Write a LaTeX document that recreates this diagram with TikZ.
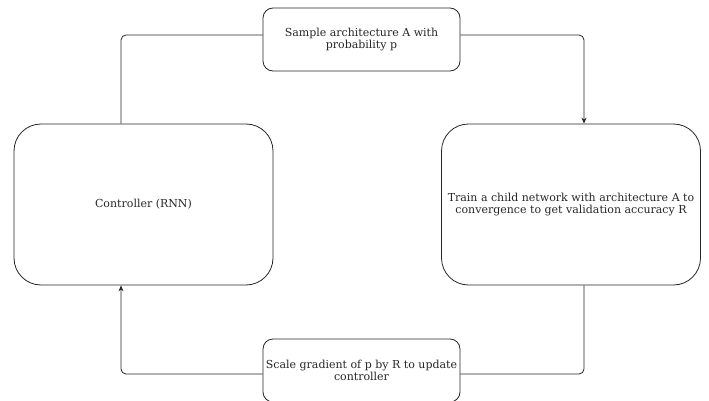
\documentclass[tikz,border=0pt]{standalone}
\usepackage{fontspec}
\setmainfont{DejaVu Serif}
\usetikzlibrary{arrows.meta}
\begin{document}
\begin{tikzpicture}[x=1pt,y=-1pt,
  box/.style={draw=black!85, line width=0.8pt, rectangle, align=center,
    font=\fontsize{11}{12.2}\selectfont, text=black!85, inner sep=2pt},
  bigbox/.style={box, minimum width=259pt, minimum height=161pt, rounded corners=27pt},
  smallbox/.style={box, minimum width=197pt, minimum height=63pt, rounded corners=10pt},
  conn/.style={draw=black!85, line width=0.8pt, rounded corners=5pt},
  tip/.style={-{Stealth[length=6pt,width=5pt]}}]
\useasboundingbox (0,0) rectangle (709,401);
\node[bigbox] (ctrl) at (143.5,204.5) {Controller (RNN)};
\node[bigbox] (train) at (571,204.5) {Train a child network with architecture A to\\convergence to get validation accuracy R};
\node[smallbox] (samp) at (361.5,39.5) {Sample architecture A with\\probability p};
\node[smallbox] (scale) at (361.5,370.5) {Scale gradient of p by R to update\\controller};
\draw[conn] ([xshift=-22.5pt]ctrl.north) |- ([yshift=4.5pt]samp.west);
\draw[conn,tip] ([yshift=4.5pt]samp.east) -| ([xshift=13pt]train.north);
\draw[conn] ([xshift=13pt]train.south) |- ([yshift=-3.5pt]scale.east);
\draw[conn,tip] ([yshift=-3.5pt]scale.west) -| ([xshift=-22.5pt]ctrl.south);
\end{tikzpicture}
\end{document}
